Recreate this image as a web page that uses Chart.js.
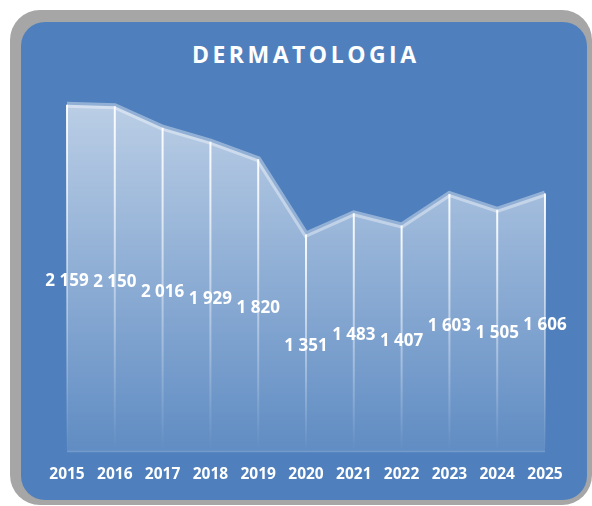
<!DOCTYPE html>
<html>
<head>
<meta charset="utf-8">
<script src="https://cdn.jsdelivr.net/npm/chart.js@4"></script>
<style>
  html, body { margin: 0; padding: 0; background: #fff; }
  body { width: 592px; height: 506px; position: relative; overflow: hidden; font-family: 'Open Sans', sans-serif; }
  .frame { position: absolute; left: 10px; top: 10px; width: 582px; height: 495px; background: #a6a6a6; border-radius: 30px; }
  .panel { position: absolute; left: 21px; top: 22px; width: 566px; height: 478px; background: #4f80bd; border-radius: 24px; }
  .title { position: absolute; left: 21px; top: 39px; width: 566px; text-align: center; color: #fff;
           font: bold 23px 'Open Sans', sans-serif; letter-spacing: 3.5px; text-indent: 3.5px; line-height: 30px; }
  #wrap { position: absolute; left: 0; top: 0; width: 592px; height: 506px; }
</style>
</head>
<body>
<div class="frame"></div>
<div class="panel"></div>
<div class="title">DERMATOLOGIA</div>
<div id="wrap"><canvas id="chart" width="592" height="506"></canvas></div>
<script>
const years = ['2015', '2016', '2017', '2018', '2019', '2020', '2021', '2022', '2023', '2024', '2025'];
const patients = [2159, 2150, 2016, 1929, 1820, 1351, 1483, 1407, 1603, 1505, 1606];

function fmt(v) {
  // thousands separated by a space, like the original
  return String(v).replace(/\B(?=(\d{3})+(?!\d))/g, ' ');
}

// vertical drop lines + value labels halfway down each line
const dropLines = {
  id: 'dropLines',
  afterDatasetsDraw(chart) {
    const ctx = chart.ctx;
    const meta = chart.getDatasetMeta(0);
    const base = chart.scales.y.getPixelForValue(0);
    ctx.save();
    meta.data.forEach(pt => {
      const g = ctx.createLinearGradient(0, pt.y, 0, base);
      g.addColorStop(0, 'rgba(255,255,255,0.95)');
      g.addColorStop(0.6, 'rgba(255,255,255,0.35)');
      g.addColorStop(1, 'rgba(255,255,255,0)');
      ctx.strokeStyle = g;
      ctx.lineWidth = 2;
      ctx.beginPath();
      ctx.moveTo(pt.x, pt.y);
      ctx.lineTo(pt.x, base);
      ctx.stroke();
    });
    // baseline
    ctx.strokeStyle = 'rgba(255,255,255,0.2)';
    ctx.lineWidth = 1.5;
    ctx.beginPath();
    ctx.moveTo(chart.chartArea.left, base);
    ctx.lineTo(chart.chartArea.right, base);
    ctx.stroke();

    ctx.fillStyle = '#fff';
    ctx.font = "bold 17px 'Open Sans', sans-serif";
    ctx.textAlign = 'center';
    ctx.textBaseline = 'middle';
    meta.data.forEach((pt, i) => {
      ctx.fillText(fmt(patients[i]), pt.x, (pt.y + base) / 2 + 3);
    });
    ctx.restore();
  }
};

new Chart(document.getElementById('chart'), {
  type: 'line',
  data: {
    labels: years,
    datasets: [{
      data: patients,
      fill: 'origin',
      borderColor: 'rgba(255,255,255,0.38)',
      borderWidth: 6,
      pointRadius: 0,
      tension: 0,
      backgroundColor: (c) => {
        const g = c.chart.ctx.createLinearGradient(0, 100, 0, 450);
        g.addColorStop(0, 'rgba(255,255,255,0.62)');
        g.addColorStop(1, 'rgba(255,255,255,0.1)');
        return g;
      }
    }]
  },
  options: {
    responsive: false,
    animation: false,
    devicePixelRatio: 1,
    layout: { padding: { left: 67, right: 47, top: 50, bottom: 8 } },
    plugins: { legend: { display: false }, tooltip: { enabled: false } },
    scales: {
      x: {
        offset: false,
        grid: { display: false, drawTicks: false },
        border: { display: false },
        ticks: { color: '#fff', padding: 14, maxRotation: 0, autoSkip: false,
                 font: { family: "'Open Sans', sans-serif", size: 15.5, weight: 'bold' } }
      },
      y: {
        display: false,
        min: 0,
        max: 2500
      }
    }
  },
  plugins: [dropLines]
});
</script>
</body>
</html>
